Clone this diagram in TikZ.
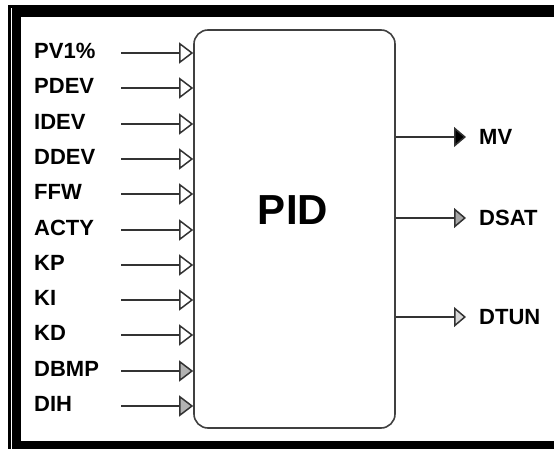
\documentclass[tikz,border=0pt]{standalone}
\usepackage{fontspec}
\setmainfont{Liberation Sans}
\usetikzlibrary{arrows.meta}
\begin{document}
\begin{tikzpicture}[x=1pt,y=-1pt,
  lab/.style={font=\fontsize{22}{22}\selectfont\bfseries, inner sep=0pt,
    text height=15.7pt, text depth=0pt, anchor=west},
  wire/.style={line width=1.7pt, draw=black!80},
  tipin/.style={-{Triangle[length=14pt,width=21pt,line width=1.5pt,fill=#1]}},
  tipin/.default=white,
  tipout/.style={-{Triangle[length=12pt,width=20pt,line width=1.5pt,fill=#1]}},
  block/.style={draw=black!75, line width=1.6pt, rounded corners=14pt,
    minimum width=201pt, minimum height=398pt, inner sep=0pt}
]
\useasboundingbox (0,0) rectangle (554,449);
\begin{scope}
  \clip (0,0) rectangle (554,449);
  % double frame: thin outer line and heavy inner band
  \draw[line width=2.2pt] (9.5,6.5) rectangle (620,520);
  \draw[line width=9pt] (16.5,13) rectangle (570,445);
\end{scope}

% main block
\node[block] (pid) at (294.5,229) {};
\node[font=\fontsize{42}{42}\selectfont\bfseries, inner sep=0pt] (pidlab) at (293,210) {PID};

% inputs, rows about 35.3pt apart
\foreach \name [count=\i] in {PV1\%,PDEV,IDEV,DDEV,FFW,ACTY,KP,KI,KD,DBMP,DIH}{
  \pgfmathsetmacro{\yy}{round(53+35.3*(\i-1))}
  \node[lab] (in\i) at (34,\yy-2) {\name};
  \coordinate (s\i) at (121,\yy);
}
\foreach \i in {1,...,9}{
  \draw[wire,tipin] (s\i) -- (s\i -| pid.west);
}
\foreach \i in {10,11}{
  \draw[wire,tipin=black!30] (s\i) -- (s\i -| pid.west);
}

% outputs
\node[lab] (mv) at (479,137) {MV};
\node[lab] (dsat) at (479,218) {DSAT};
\node[lab] (dtun) at (479,317) {DTUN};
\coordinate (e1) at (466,137);
\coordinate (e2) at (466,218);
\coordinate (e3) at (466,317);
\draw[wire,tipout=black] (pid.east |- e1) -- (e1);
\draw[wire,tipout=black!35] (pid.east |- e2) -- (e2);
\draw[wire,tipout=black!15] (pid.east |- e3) -- (e3);
\end{tikzpicture}
\end{document}
